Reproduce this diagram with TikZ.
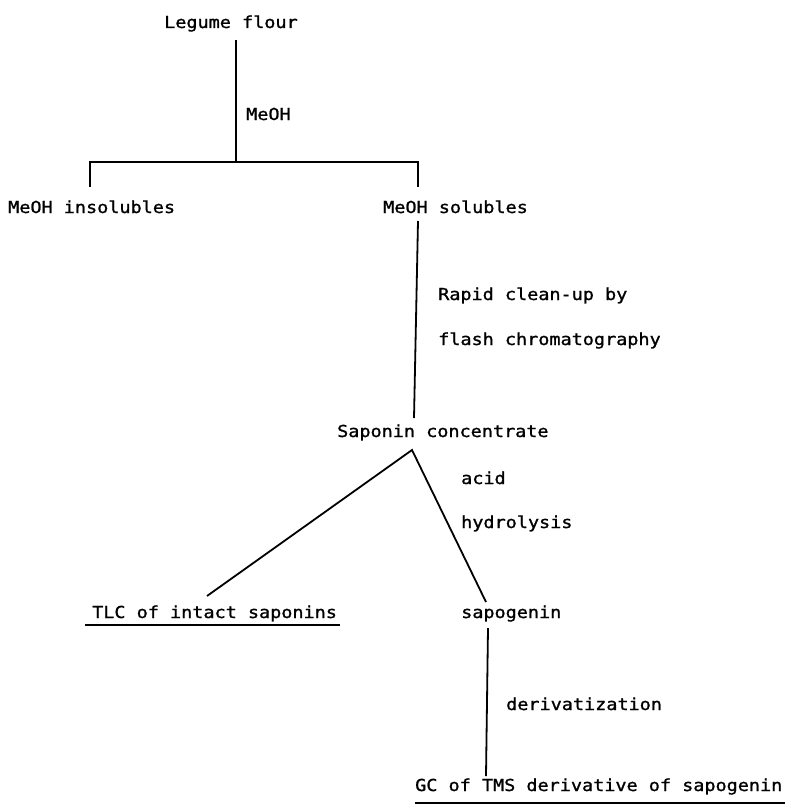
\documentclass[tikz,border=0pt]{standalone}
\usepackage{fontspec}
\setmonofont[FakeStretch=1.12,FakeBold=1.2]{DejaVu Sans Mono}
\begin{document}
\begin{tikzpicture}[x=1pt,y=-1pt,
  lbl/.style={font=\ttfamily\fontsize{16.5}{18}\selectfont, inner sep=0pt, anchor=base west},
  conn/.style={line width=1.8pt},
  uline/.style={line width=1.2pt}]
\useasboundingbox (0,0) rectangle (791,808);
% texts
\node[lbl] (legume) at (164,28) {Legume flour};
\node[lbl] (meoh) at (246,120) {MeOH};
\node[lbl] (insol) at (8,213) {MeOH insolubles};
\node[lbl] (sol) at (383,213) {MeOH solubles};
\node[lbl] (rapid) at (438,300) {Rapid clean-up by};
\node[lbl] (flash) at (438,345) {flash chromatography};
\node[lbl] (sapc) at (337,437) {Saponin concentrate};
\node[lbl] (acid) at (461,484) {acid};
\node[lbl] (hydro) at (461,528) {hydrolysis};
\node[lbl] (tlc) at (92,618) {TLC of intact saponins};
\node[lbl] (sapg) at (461,618) {sapogenin};
\node[lbl] (deriv) at (506,710) {derivatization};
\node[lbl] (gc) at (415,791) {GC of TMS derivative of sapogenin};
% junction coordinates
\coordinate (t1) at (236,40);
\coordinate (j1) at (236,162);
\coordinate (bl) at (90,162);
\coordinate (br) at (418,162);
\coordinate (dl) at (90,187);
\coordinate (dr) at (418,187);
\coordinate (s1) at (418,221);
\coordinate (s2) at (414,418);
\coordinate (apex) at (412,450);
\coordinate (lend) at (207,596);
\coordinate (rend) at (486,602);
\coordinate (g1) at (488,628);
\coordinate (g2) at (486,776);
\coordinate (u1a) at (85,625);
\coordinate (u1b) at (340,625);
\coordinate (u2a) at (415,803);
\coordinate (u2b) at (785,803);
% connectors
\draw[conn] (t1) -- (j1);
\draw[conn] (dl) -- (bl) -- (br) -- (dr);
\draw[conn] (s1) -- (s2);
\draw[conn] (lend) -- (apex) -- (rend);
\draw[conn] (g1) -- (g2);
\draw[uline] (u1a) -- (u1b);
\draw[uline] (u2a) -- (u2b);
\end{tikzpicture}
\end{document}
